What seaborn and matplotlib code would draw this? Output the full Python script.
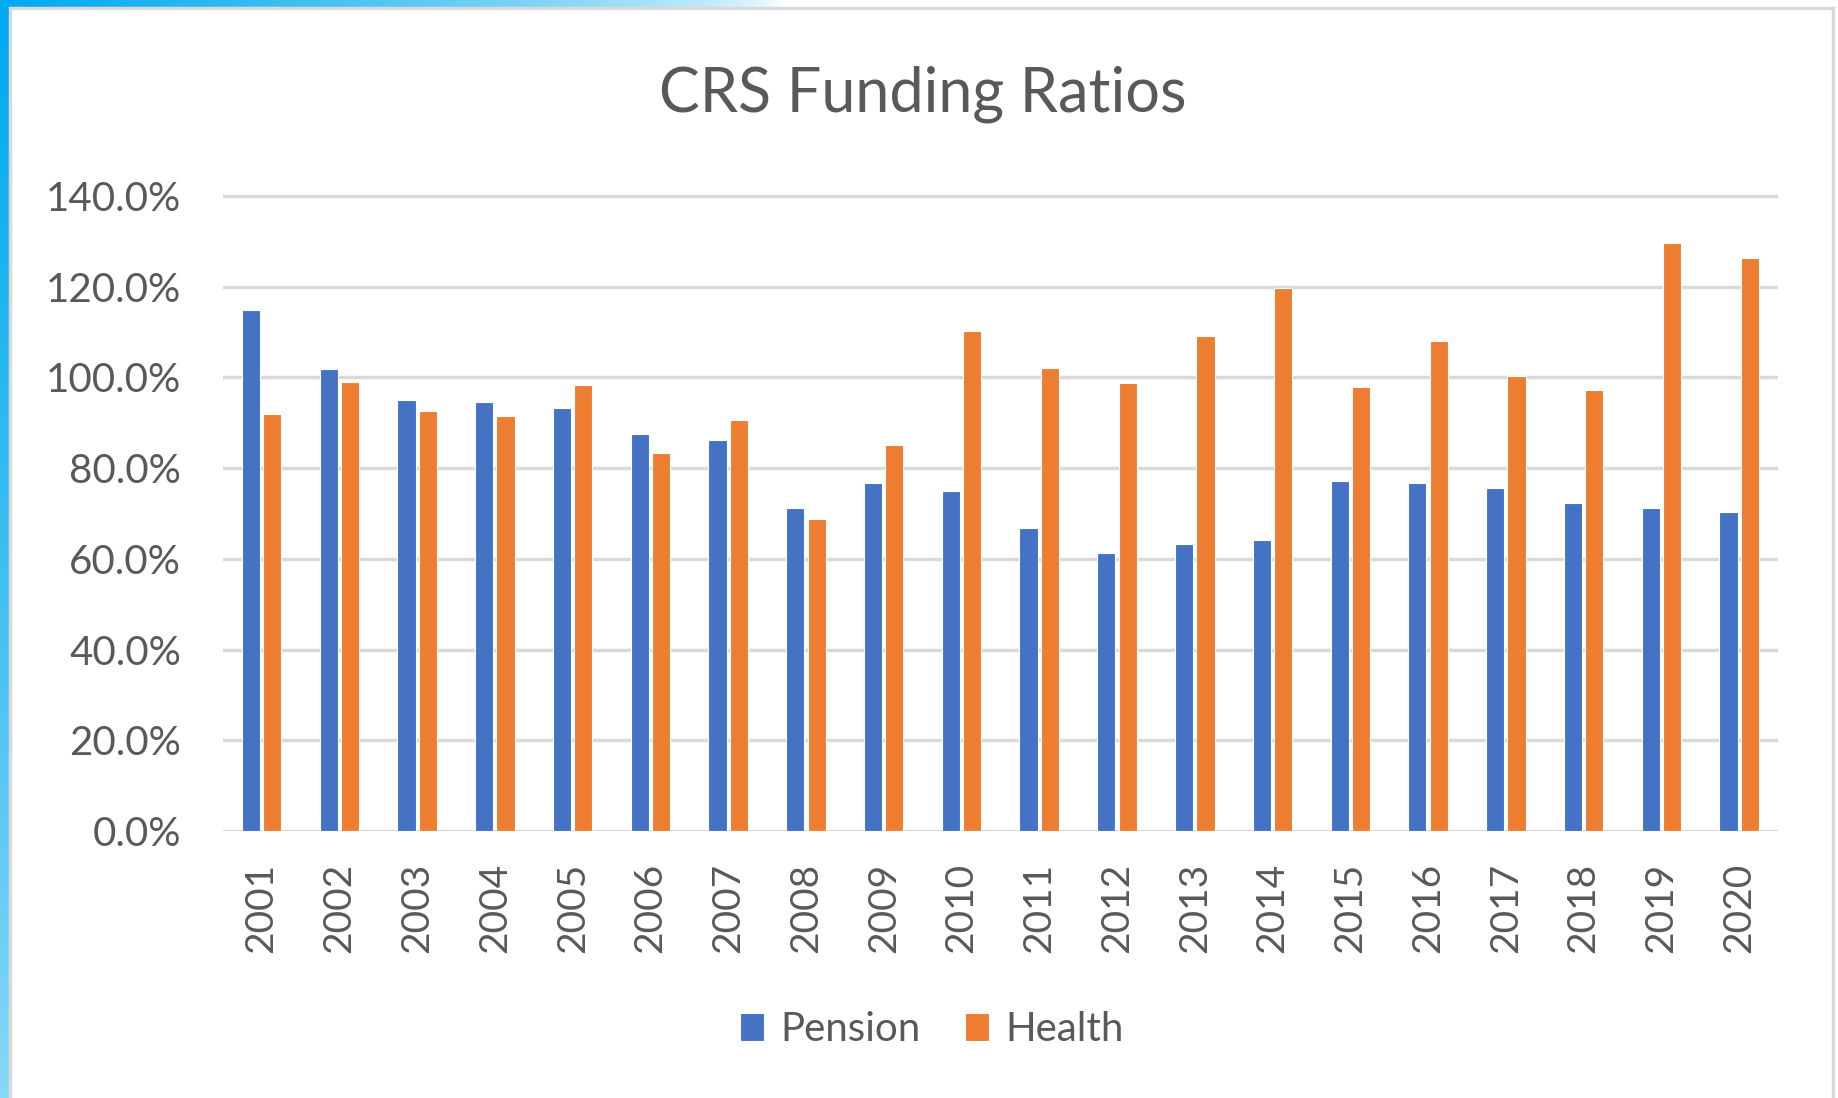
import matplotlib
matplotlib.use("Agg")
import matplotlib.pyplot as plt
from matplotlib.patches import Rectangle
from matplotlib.ticker import PercentFormatter
import numpy as np
import pandas as pd
import seaborn as sns

# ============================================================
# DATOS
# ============================================================
years = [str(y) for y in range(2001, 2021)]
pension = [114.8, 101.9, 94.9, 94.6, 93.3, 87.4, 86.1, 71.2, 76.6, 75.0,
           66.8, 61.3, 63.2, 64.2, 77.1, 76.8, 75.5, 72.4, 71.1, 70.4]
health = [92.0, 99.0, 92.5, 91.5, 98.2, 83.3, 90.5, 68.8, 85.1, 110.3,
          102.1, 98.7, 109.0, 119.6, 97.8, 107.9, 100.2, 97.3, 129.5, 126.3]
series_names = ["Pension", "Health"]
colors = ["#4472C4", "#ED7D31"]
yticks = [0, 20, 40, 60, 80, 100, 120, 140]

df = pd.DataFrame({
    "year": years * 2,
    "value": pension + health,
    "series": [series_names[0]] * len(years) + [series_names[1]] * len(years),
})

sns.set_theme(style="white")
plt.rcParams["font.family"] = ["Lato", "DejaVu Sans"]
text_gray = "#595959"

W, H = 1838, 1098
fig = plt.figure(figsize=(W / 100, H / 100), dpi=100, facecolor="white")

# fondo azul de la diapositiva (esquina superior izquierda)
bg = fig.add_axes([0, 0, 1, 1], zorder=-10)
xx, yy = np.meshgrid(np.arange(0, W, 4), np.arange(0, H, 4))
w = np.clip(1 - xx / 780 - 0.72 * yy / H, 0, 1) ** 0.6
blue = np.array([0 / 255, 170 / 255, 238 / 255])
img = 1 - w[..., None] * (1 - blue)
bg.imshow(img, aspect="auto", extent=[0, 1, 0, 1], origin="upper")
bg.set_axis_off()

# marco blanco del gráfico
frame = Rectangle((10 / W, -0.05), (1833 - 10) / W, 1.05 - 8 / H,
                  transform=fig.transFigure, facecolor="white",
                  edgecolor="#d9d9d9", linewidth=2.5, zorder=-5)
fig.add_artist(frame)

ax_left, ax_right = 222.7 / W, 1778 / W
ax_bottom, ax_top = 1 - 831 / H, 1 - 194 / H
ax = fig.add_axes([ax_left, ax_bottom, ax_right - ax_left, ax_top - ax_bottom])
ax.set_facecolor("none")

sns.barplot(data=df, x="year", y="value", hue="series", palette=colors,
            saturation=1, width=0.55, gap=0.15, edgecolor="white",
            linewidth=0.8, ax=ax)

ax.set_ylim(0, 140.4)
ax.set_xlim(-0.5, 19.5)
ax.set_yticks(yticks)
ax.yaxis.set_major_formatter(PercentFormatter(decimals=1))
ax.yaxis.grid(True, color="#d9d9d9", linewidth=2.5)
ax.set_axisbelow(True)
for s in ax.spines.values():
    s.set_visible(False)
ax.set_xlabel("")
ax.set_ylabel("")
ax.tick_params(axis="y", length=0, pad=30, labelsize=29, labelcolor=text_gray)
ax.tick_params(axis="x", length=0, pad=23, labelsize=28, labelcolor=text_gray,
               rotation=90)

handles, labels = ax.get_legend_handles_labels()
ax.get_legend().remove()
fig.legend(handles, labels, loc="center", bbox_to_anchor=(0.507, 0.062),
           ncol=2, frameon=False, fontsize=29, labelcolor=text_gray,
           handlelength=0.6, handleheight=0.7, handletextpad=0.4,
           columnspacing=1.1)

fig.text(0.502, 0.914, "CRS Funding Ratios", ha="center", va="center",
         fontsize=44, color=text_gray)

fig.savefig("out.png", dpi=100, facecolor=fig.get_facecolor())
